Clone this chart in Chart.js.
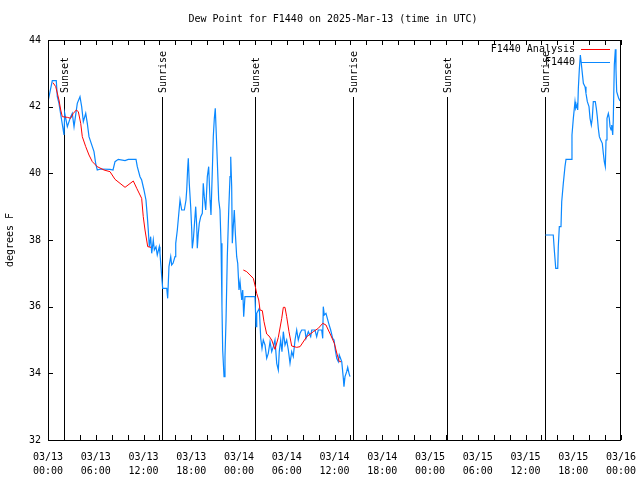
<!DOCTYPE html>
<html>
<head>
<meta charset="utf-8">
<script src="https://cdn.jsdelivr.net/npm/chart.js@4.4.1/dist/chart.umd.min.js"></script>
<style>
  html, body { margin: 0; padding: 0; background: #fff; }
  canvas { display: block; }
</style>
</head>
<body>
<canvas id="dewChart" width="640" height="480"></canvas>
<script>
// hours since 03/13 00:00 UTC
const obsHours = [
  0.00, 0.54, 1.04, 1.17, 1.38, 1.67, 2.01, 2.10, 2.43, 2.85, 3.05, 3.27, 3.68, 4.02, 4.23, 4.44,
  4.74, 4.94, 5.15, 5.57, 5.78, 5.99, 6.19, 6.62, 7.79, 8.17, 8.42, 8.83, 9.68, 10.09, 11.06, 11.22,
  11.56, 11.77, 12.06, 12.31, 12.48, 12.60, 12.73, 12.90, 13.03, 13.23, 13.36, 13.57, 13.73, 13.99, 14.07, 14.29,
  14.41, 14.92, 15.04, 15.20, 15.42, 15.54, 15.71, 15.96, 16.05, 16.25, 16.42, 16.59, 16.80, 17.13, 17.34, 17.43,
  17.55, 17.63, 17.75, 17.93, 18.06, 18.13, 18.26, 18.38, 18.56, 18.69, 18.76, 18.89, 19.01, 19.19, 19.39, 19.51,
  19.64, 19.82, 20.02, 20.19, 20.36, 20.48, 20.65, 20.77, 20.90, 21.02, 21.11, 21.27, 21.45, 21.61, 21.74, 21.86,
  21.95, 22.12, 22.24, 22.37, 22.53, 22.71, 22.87, 22.96, 23.08, 23.16, 23.28, 23.41, 23.54, 23.71, 23.84, 24.00,
  24.13, 24.25, 24.34, 24.47, 24.59, 24.75, 26.01, 26.14, 26.23, 26.55, 26.73, 26.89, 27.05, 27.27, 27.48, 27.68,
  27.90, 28.11, 28.31, 28.52, 28.74, 28.94, 29.06, 29.24, 29.40, 29.57, 29.78, 29.99, 30.20, 30.41, 30.62, 30.82,
  31.04, 31.25, 31.45, 31.67, 31.88, 32.29, 32.42, 32.71, 33.01, 33.14, 33.55, 33.76, 33.96, 34.39, 34.52, 34.59,
  34.72, 34.93, 35.10, 35.27, 35.52, 35.77, 35.94, 36.10, 36.28, 36.48, 36.60, 36.91, 37.11, 37.19, 37.32, 37.53,
  37.66, 37.82, 37.95, 50.00,
  62.49, 63.49, 63.62, 63.80, 64.05, 64.12, 64.25, 64.46, 64.55, 64.75, 64.96, 65.09, 65.72, 65.84, 66.01, 66.22,
  66.31, 66.47, 66.56, 66.64, 66.76, 66.89, 67.01, 67.14, 67.27, 67.48, 67.60, 67.77, 67.98, 68.11, 68.27, 68.39,
  68.52, 68.77, 68.90, 69.02, 69.15, 69.28, 69.45, 69.65, 69.78, 69.90, 70.03, 70.12, 70.24, 70.41, 70.53, 70.62,
  70.75, 70.83, 70.96, 71.03, 71.16, 71.29, 71.37, 71.46, 71.58, 71.71, 71.87
];
const obsValues = [
  42.15, 42.78, 42.78, 42.30, 42.10, 41.66, 41.15, 41.80, 41.40, 41.70, 41.80, 41.40, 42.10, 42.30, 42.00, 41.55,
  41.80, 41.50, 41.10, 40.80, 40.65, 40.30, 40.10, 40.13, 40.12, 40.10, 40.35, 40.42, 40.38, 40.42, 40.42, 40.20,
  39.90, 39.80, 39.50, 39.20, 38.70, 38.30, 37.80, 38.10, 37.60, 38.00, 37.70, 37.80, 37.55, 37.80, 37.60, 36.90,
  36.55, 36.55, 36.25, 37.20, 37.50, 37.25, 37.30, 37.50, 37.90, 38.30, 38.75, 39.20, 38.90, 38.90, 39.20, 39.50,
  40.15, 40.45, 39.70, 39.00, 38.30, 37.75, 38.00, 38.40, 39.00, 38.40, 37.75, 38.20, 38.50, 38.70, 38.80, 39.70,
  39.30, 38.90, 39.90, 40.20, 39.20, 38.75, 40.10, 41.10, 41.65, 41.95, 41.40, 40.40, 39.20, 38.90, 37.90, 36.00,
  34.70, 33.90, 34.50, 35.60, 37.50, 38.90, 39.90, 40.50, 39.60, 37.90, 38.40, 38.90, 38.20, 37.50, 37.30, 36.50,
  36.75, 36.75, 36.20, 36.50, 35.70, 36.30, 36.30, 35.40, 35.80, 35.95, 35.05, 34.75, 35.00, 34.85, 34.45, 34.60,
  34.95, 34.65, 34.80, 35.00, 34.30, 34.10, 34.65, 35.00, 34.65, 35.25, 34.85, 35.00, 34.70, 34.30, 34.65, 34.50,
  35.00, 35.30, 35.00, 35.20, 35.30, 35.30, 35.05, 35.25, 35.10, 35.30, 35.30, 35.10, 35.30, 35.30, 35.05, 36.00,
  35.75, 35.80, 35.65, 35.50, 35.30, 35.05, 35.00, 34.70, 34.45, 34.35, 34.55, 34.35, 33.85, 33.60, 33.90, 34.05,
  34.18, 34.00, 33.90, null,
  38.15, 38.15, 37.70, 37.15, 37.15, 37.80, 38.40, 38.40, 39.15, 39.70, 40.20, 40.42, 40.42, 41.15, 41.65, 42.15,
  41.95, 42.05, 41.90, 42.55, 43.10, 43.55, 43.30, 43.00, 42.70, 42.60, 42.40, 42.15, 42.00, 41.65, 41.45, 41.65,
  42.15, 42.15, 41.95, 41.70, 41.35, 41.10, 41.00, 40.90, 40.60, 40.35, 40.20, 41.00, 41.65, 41.80, 41.65, 41.40,
  41.30, 41.45, 41.15, 41.60, 43.25, 43.72, 43.10, 42.45, 42.35, 42.25, 42.17
];

const analysisHours = [
  0.63, 0.97, 1.38, 1.60, 1.80, 2.43, 2.85, 3.18, 3.56, 3.81, 4.11, 4.31, 4.74, 5.15, 5.57, 6.19,
  7.04, 7.79, 8.42, 9.05, 9.68, 10.72, 11.15, 11.77, 11.97, 12.19, 12.53, 12.94, 18.00,
  24.54, 24.97, 25.38, 25.80, 26.05, 26.22, 26.48, 26.64, 26.93, 27.14, 27.48, 27.77, 28.11, 28.52, 28.94, 29.37,
  29.57, 29.78, 29.99, 30.28, 30.62, 31.25, 31.67, 32.51, 33.34, 33.96, 34.52, 34.93, 35.22, 35.52, 35.98, 36.19,
  36.35, 36.60, 36.82
];
const analysisValues = [
  42.72, 42.60, 42.20, 41.90, 41.70, 41.68, 41.65, 41.80, 41.90, 41.85, 41.50, 41.10, 40.80, 40.55, 40.35, 40.20,
  40.10, 40.05, 39.82, 39.70, 39.58, 39.77, 39.55, 39.25, 38.70, 38.30, 37.80, 37.78, null,
  37.10, 37.05, 36.95, 36.85, 36.60, 36.40, 36.20, 35.90, 35.88, 35.55, 35.18, 35.12, 35.00, 34.72, 35.08, 35.65,
  35.98, 35.98, 35.70, 35.25, 34.82, 34.78, 34.80, 35.10, 35.25, 35.35, 35.50, 35.45, 35.30, 35.15, 34.90, 34.70,
  34.55, 34.35, 34.35
];

const sunHours = [2.0, 14.3, 26.0, 38.35, 50.1, 62.45];
const sunLabels = ["Sunset", "Sunrise", "Sunset", "Sunrise", "Sunset", "Sunrise"];

const xTickLabels = [
  ["03/13", "00:00"], ["03/13", "06:00"], ["03/13", "12:00"], ["03/13", "18:00"],
  ["03/14", "00:00"], ["03/14", "06:00"], ["03/14", "12:00"], ["03/14", "18:00"],
  ["03/15", "00:00"], ["03/15", "06:00"], ["03/15", "12:00"], ["03/15", "18:00"],
  ["03/16", "00:00"]
];

const FONT = "DejaVu Sans Mono";
const BLUE = "#0a88ff";
const RED = "#ff0000";

function toPoints(xs, ys) {
  return xs.map((x, i) => ({ x: x, y: ys[i] }));
}

// gnuplot-like frame, inward ticks, sun lines, legend and titles
const framePlugin = {
  id: "frame",
  beforeDatasetsDraw(chart) {
    const { ctx, chartArea: a, scales } = chart;
    ctx.save();
    ctx.strokeStyle = "#000";
    ctx.lineWidth = 1;
    ctx.fillStyle = "#000";
    ctx.font = "10px '" + FONT + "'";
    sunHours.forEach((h, i) => {
      const x = Math.round(scales.x.getPixelForValue(h)) + 0.5;
      ctx.beginPath();
      ctx.moveTo(x, a.bottom);
      ctx.lineTo(x, 97);
      ctx.stroke();
      ctx.save();
      ctx.translate(x + 1, 93);
      ctx.rotate(-Math.PI / 2);
      ctx.textAlign = "left";
      ctx.textBaseline = "middle";
      ctx.fillText(sunLabels[i], 0, 0);
      ctx.restore();
    });
    ctx.restore();
  },
  afterDraw(chart) {
    const { ctx, chartArea: a, scales } = chart;
    ctx.save();
    ctx.strokeStyle = "#000";
    ctx.lineWidth = 1;
    ctx.strokeRect(a.left + 0.5, a.top + 0.5, a.right - a.left - 1, a.bottom - a.top);

    ctx.beginPath();
    for (let h = 0; h <= 72; h += 2) {
      const x = Math.round(scales.x.getPixelForValue(h)) + 0.5;
      ctx.moveTo(x, a.bottom); ctx.lineTo(x, a.bottom - 5);
      ctx.moveTo(x, a.top); ctx.lineTo(x, a.top + 5);
    }
    for (let v = 32; v <= 44; v += 2) {
      const y = Math.round(scales.y.getPixelForValue(v)) + 0.5;
      ctx.moveTo(a.left, y); ctx.lineTo(a.left + 5, y);
      ctx.moveTo(a.right, y); ctx.lineTo(a.right - 5, y);
    }
    ctx.stroke();

    ctx.fillStyle = "#000";
    ctx.font = "10px '" + FONT + "'";
    ctx.textAlign = "center";
    ctx.textBaseline = "middle";
    ctx.fillText("Dew Point for F1440 on 2025-Mar-13 (time in UTC)", 333, 19);

    ctx.save();
    ctx.translate(10, 240);
    ctx.rotate(-Math.PI / 2);
    ctx.fillText("degrees F", 0, 0);
    ctx.restore();

    // legend
    const rows = [["F1440 Analysis", RED, 49], ["F1440", BLUE, 62]];
    ctx.textAlign = "right";
    rows.forEach(([label, color, y]) => {
      ctx.fillStyle = "#000";
      ctx.fillText(label, 575, y);
      ctx.strokeStyle = color;
      ctx.beginPath();
      ctx.moveTo(581, y + 0.5);
      ctx.lineTo(610, y + 0.5);
      ctx.stroke();
    });
    ctx.restore();
  }
};

new Chart(document.getElementById("dewChart"), {
  type: "line",
  data: {
    datasets: [
      {
        label: "F1440 Analysis",
        data: toPoints(analysisHours, analysisValues),
        borderColor: RED,
        borderWidth: 1,
        pointRadius: 0,
        tension: 0,
        spanGaps: false
      },
      {
        label: "F1440",
        data: toPoints(obsHours, obsValues),
        borderColor: BLUE,
        borderWidth: 1.2,
        pointRadius: 0,
        tension: 0,
        spanGaps: false
      }
    ]
  },
  options: {
    responsive: false,
    animation: false,
    devicePixelRatio: 1,
    layout: { padding: { top: 40, right: 19, left: 0, bottom: 0 } },
    plugins: { legend: { display: false }, tooltip: { enabled: false } },
    scales: {
      x: {
        type: "linear",
        min: 0,
        max: 72,
        afterFit(s) {
          s.height = 40;
          s.paddingLeft = 0;
          s.paddingRight = 0;
        },
        grid: { display: false, drawTicks: false },
        border: { display: false },
        ticks: {
          stepSize: 6,
          autoSkip: false,
          maxRotation: 0,
          padding: 10,
          color: "#000",
          font: { family: FONT, size: 10, lineHeight: 1.4 },
          callback: (v, i) => xTickLabels[i]
        }
      },
      y: {
        min: 32,
        max: 44,
        afterFit(s) {
          s.width = 48;
          s.paddingTop = 0;
          s.paddingBottom = 0;
        },
        grid: { display: false, drawTicks: false },
        border: { display: false },
        ticks: {
          stepSize: 2,
          padding: 7,
          color: "#000",
          font: { family: FONT, size: 10 }
        }
      }
    }
  },
  plugins: [framePlugin]
});
</script>
</body>
</html>
